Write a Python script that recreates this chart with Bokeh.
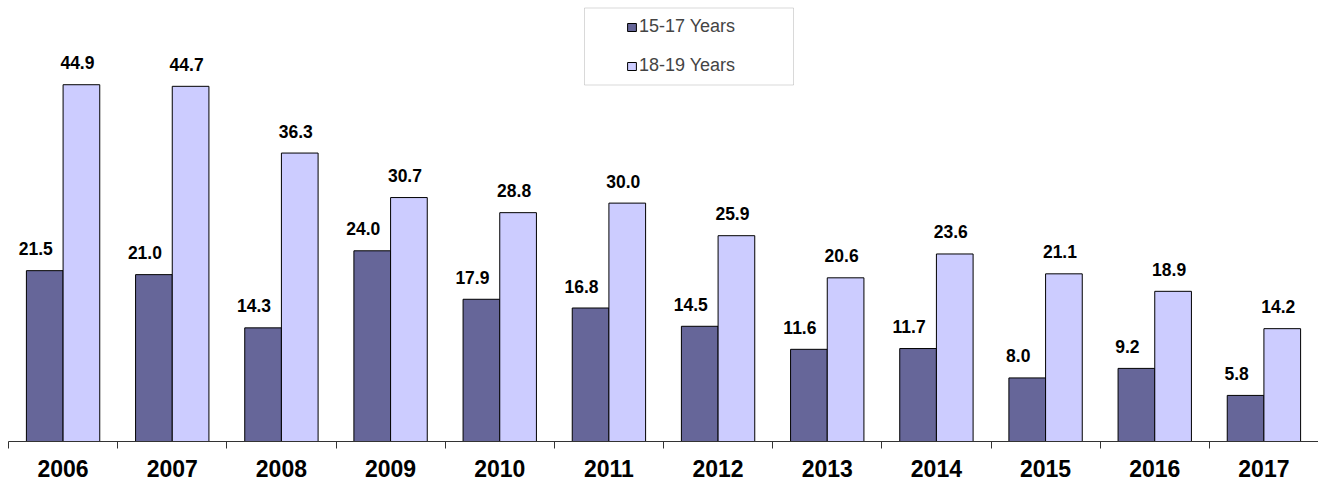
import numpy as np
from bokeh.plotting import figure
from bokeh.models import (ColumnDataSource, Range1d, FixedTicker, Legend, LegendItem,
                          BoxAnnotation)
from bokeh.transform import dodge
from bokeh.core.properties import value
from bokeh.embed import file_html
from bokeh.resources import INLINE

years = ["2006", "2007", "2008", "2009", "2010", "2011", "2012", "2013", "2014", "2015", "2016", "2017"]
age_15_17 = [21.5, 21.0, 14.3, 24.0, 17.9, 16.8, 14.5, 11.6, 11.7, 8.0, 9.2, 5.8]
age_18_19 = [44.9, 44.7, 36.3, 30.7, 28.8, 30.0, 25.9, 20.6, 23.6, 21.1, 18.9, 14.2]
series_names = ["15-17 Years", "18-19 Years"]

DARK = "#666699"
LIGHT = "#CCCCFF"
FONT = "Liberation Sans"

n = len(years)
pos = np.arange(n) + 0.5
src = ColumnDataSource(dict(
    pos=pos, a=age_15_17, b=age_18_19,
    a_lab=[f"{v:.1f}" for v in age_15_17],
    b_lab=[f"{v:.1f}" for v in age_18_19],
))

FRAME_H = 441
p = figure(frame_width=1310, frame_height=FRAME_H, output_backend="svg", toolbar_location=None,
           x_range=Range1d(0, n), y_range=Range1d(0, 55.5),
           min_border_left=8, min_border_right=0, min_border_top=0, min_border_bottom=0)
p.outline_line_color = None
p.xgrid.visible = False
p.ygrid.visible = False
p.yaxis.visible = False

W = 0.336
r1 = p.vbar(x=dodge("pos", -W / 2, range=p.x_range), top="a", width=W, source=src,
            fill_color=DARK, line_color="#000000", line_width=1)
r2 = p.vbar(x=dodge("pos", W / 2, range=p.x_range), top="b", width=W, source=src,
            fill_color=LIGHT, line_color="#000000", line_width=1)

p.text(x=dodge("pos", -W / 2, range=p.x_range), y="a", text="a_lab", source=src,
       text_font=value(FONT), text_font_style="bold", text_font_size="17.5px",
       text_align="center", text_baseline="alphabetic", x_offset=-9, y_offset=-22,
       text_color="#000000")
p.text(x=dodge("pos", W / 2, range=p.x_range), y="b", text="b_lab", source=src,
       text_font=value(FONT), text_font_style="bold", text_font_size="17.5px",
       text_align="center", text_baseline="alphabetic", x_offset=-4, y_offset=-22,
       text_color="#000000")

ax = p.xaxis[0]
ax.ticker = FixedTicker(ticks=list(pos), minor_ticks=list(range(n + 1)))
ax.major_label_overrides = {float(x): y for x, y in zip(pos, years)}
ax.major_tick_out = 0
ax.major_tick_in = 0
ax.minor_tick_out = 7
ax.minor_tick_in = 0
ax.minor_tick_line_color = "#333333"
ax.axis_line_color = "#333333"
ax.major_label_text_font = FONT
ax.major_label_text_font_style = "bold"
ax.major_label_text_font_size = "23px"
ax.major_label_text_color = "#000000"
ax.major_label_standoff = 11

legend = Legend(items=[LegendItem(label=series_names[0], renderers=[r1]),
                       LegendItem(label=series_names[1], renderers=[r2])],
                location=(610, FRAME_H - 74 - 10), padding=8, spacing=18,
                glyph_width=11, glyph_height=10, label_height=20, label_standoff=2,
                label_text_font=FONT, label_text_font_size="18px",
                border_line_alpha=0, background_fill_alpha=0)
p.add_layout(legend, "center")

box = BoxAnnotation(left=584, right=793, top=7.5, bottom=84.5,
                    left_units="canvas", right_units="canvas",
                    top_units="canvas", bottom_units="canvas",
                    fill_alpha=0, line_color="#808080", line_width=1)
p.add_layout(box)

open("out.html", "w").write(file_html(p, INLINE))
